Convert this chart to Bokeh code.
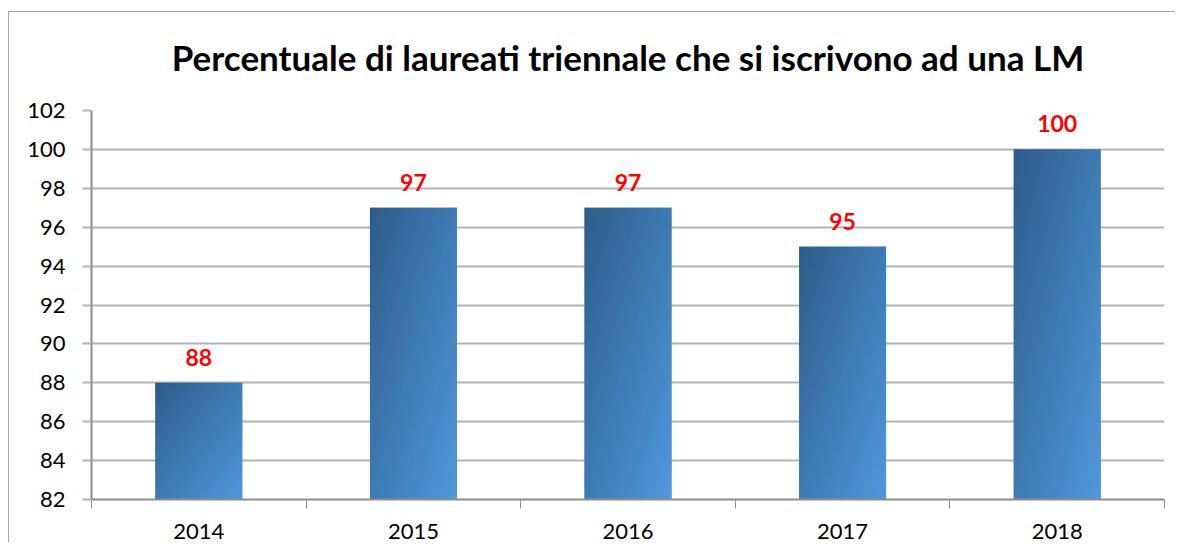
import numpy as np
from bokeh.plotting import figure
from bokeh.models import (ColumnDataSource, LabelSet, FixedTicker, Range1d, Title)
from bokeh.core.properties import value
from bokeh.embed import file_html
from bokeh.resources import INLINE

# ---- data ----
years = ["2014", "2015", "2016", "2017", "2018"]
values = [88, 97, 97, 95, 100]
y_ticks = [82, 84, 86, 88, 90, 92, 94, 96, 98, 100, 102]
title_text = "Percentuale di laureati triennale che si iscrivono ad una LM"

FONT = "Lato"
BAR_W = 0.405
DARK = np.array([46, 93, 139])
LIGHT = np.array([80, 153, 221])

xs = [i + 0.5 for i in range(len(years))]

p = figure(width=1175, height=542, output_backend="svg", toolbar_location=None,
           x_range=Range1d(0, len(years)), y_range=Range1d(82, 102),
           min_border_left=91, min_border_right=11, min_border_top=110,
           min_border_bottom=43, outline_line_color=None,
           border_fill_color=None, background_fill_color="#ffffff")
p.styles = {
    "background-color": "#ffffff",
    "background-image": "linear-gradient(#a6a6a6, #a6a6a6), linear-gradient(#a6a6a6, #a6a6a6)",
    "background-size": "1px 100%, 100% 1px",
    "background-position": "8px 11px, 8px 11px",
    "background-repeat": "no-repeat, no-repeat",
}

t = Title(text=title_text, text_font=FONT, text_font_size="35px",
          text_font_style="bold", align="center", text_color="#000000",
          standoff=66)
p.add_layout(t, "above")

# bars (solid base + gradient overlay)
src = ColumnDataSource(dict(x=xs, top=values, label=[str(v) for v in values]))
p.vbar(x="x", top="top", bottom=82, width=BAR_W, source=src,
       fill_color="#3f7fbc", line_color=None)

n = 96
u = np.linspace(0, 1, n)[None, :]
imgs, ix, iy, idw, idh = [], [], [], [], []
for x, v in zip(xs, values):
    vv = np.linspace(0, 1, n)[:, None]  # 0 bottom, 1 top
    tt = (u + (1 - vv)) / 2.0
    rgb = DARK[None, None, :] * (1 - tt[..., None]) + LIGHT[None, None, :] * tt[..., None]
    img = np.empty((n, n), dtype=np.uint32)
    view = img.view(dtype=np.uint8).reshape((n, n, 4))
    view[..., 0] = rgb[..., 0].astype(np.uint8)
    view[..., 1] = rgb[..., 1].astype(np.uint8)
    view[..., 2] = rgb[..., 2].astype(np.uint8)
    view[..., 3] = 255
    imgs.append(img)
    ix.append(x - BAR_W / 2)
    iy.append(82)
    idw.append(BAR_W)
    idh.append(v - 82)
p.image_rgba(image=imgs, x=ix, y=iy, dw=idw, dh=idh)

labels = LabelSet(x="x", y="top", text="label", source=src, text_align="center",
                  text_baseline="bottom", y_offset=17, text_color="#ff0000",
                  text_font=value(FONT), text_font_size="23px", text_font_style="bold")
p.add_layout(labels)

# grid
p.xgrid.grid_line_color = None
p.ygrid.ticker = FixedTicker(ticks=y_ticks)
p.ygrid.grid_line_color = "#b3b3b3"
p.ygrid.grid_line_width = 2

# y axis
p.yaxis.ticker = FixedTicker(ticks=y_ticks)
p.yaxis.axis_line_color = "#8c8c8c"
p.yaxis.axis_line_width = 2
p.yaxis.major_tick_line_color = "#b3b3b3"
p.yaxis.major_tick_line_width = 2
p.yaxis.major_tick_out = 9
p.yaxis.major_tick_in = 0
p.yaxis.minor_tick_line_color = None
p.yaxis.major_label_text_font = FONT
p.yaxis.major_label_text_font_size = "22px"
p.yaxis.major_label_text_color = "#000000"
p.yaxis.major_label_standoff = 17

# x axis
p.xaxis.ticker = FixedTicker(ticks=xs, minor_ticks=list(range(len(years) + 1)))
p.xaxis.major_label_overrides = {x: y for x, y in zip(xs, years)}
p.xaxis.axis_line_color = "#8c8c8c"
p.xaxis.axis_line_width = 2
p.xaxis.major_tick_line_color = None
p.xaxis.major_tick_out = 0
p.xaxis.major_tick_in = 0
p.xaxis.minor_tick_line_color = "#8c8c8c"
p.xaxis.minor_tick_line_width = 1
p.xaxis.minor_tick_out = 9
p.xaxis.minor_tick_in = 0
p.xaxis.major_label_text_font = FONT
p.xaxis.major_label_text_font_size = "22px"
p.xaxis.major_label_text_color = "#000000"
p.xaxis.major_label_standoff = 15

open("out.html", "w").write(file_html(p, INLINE))
